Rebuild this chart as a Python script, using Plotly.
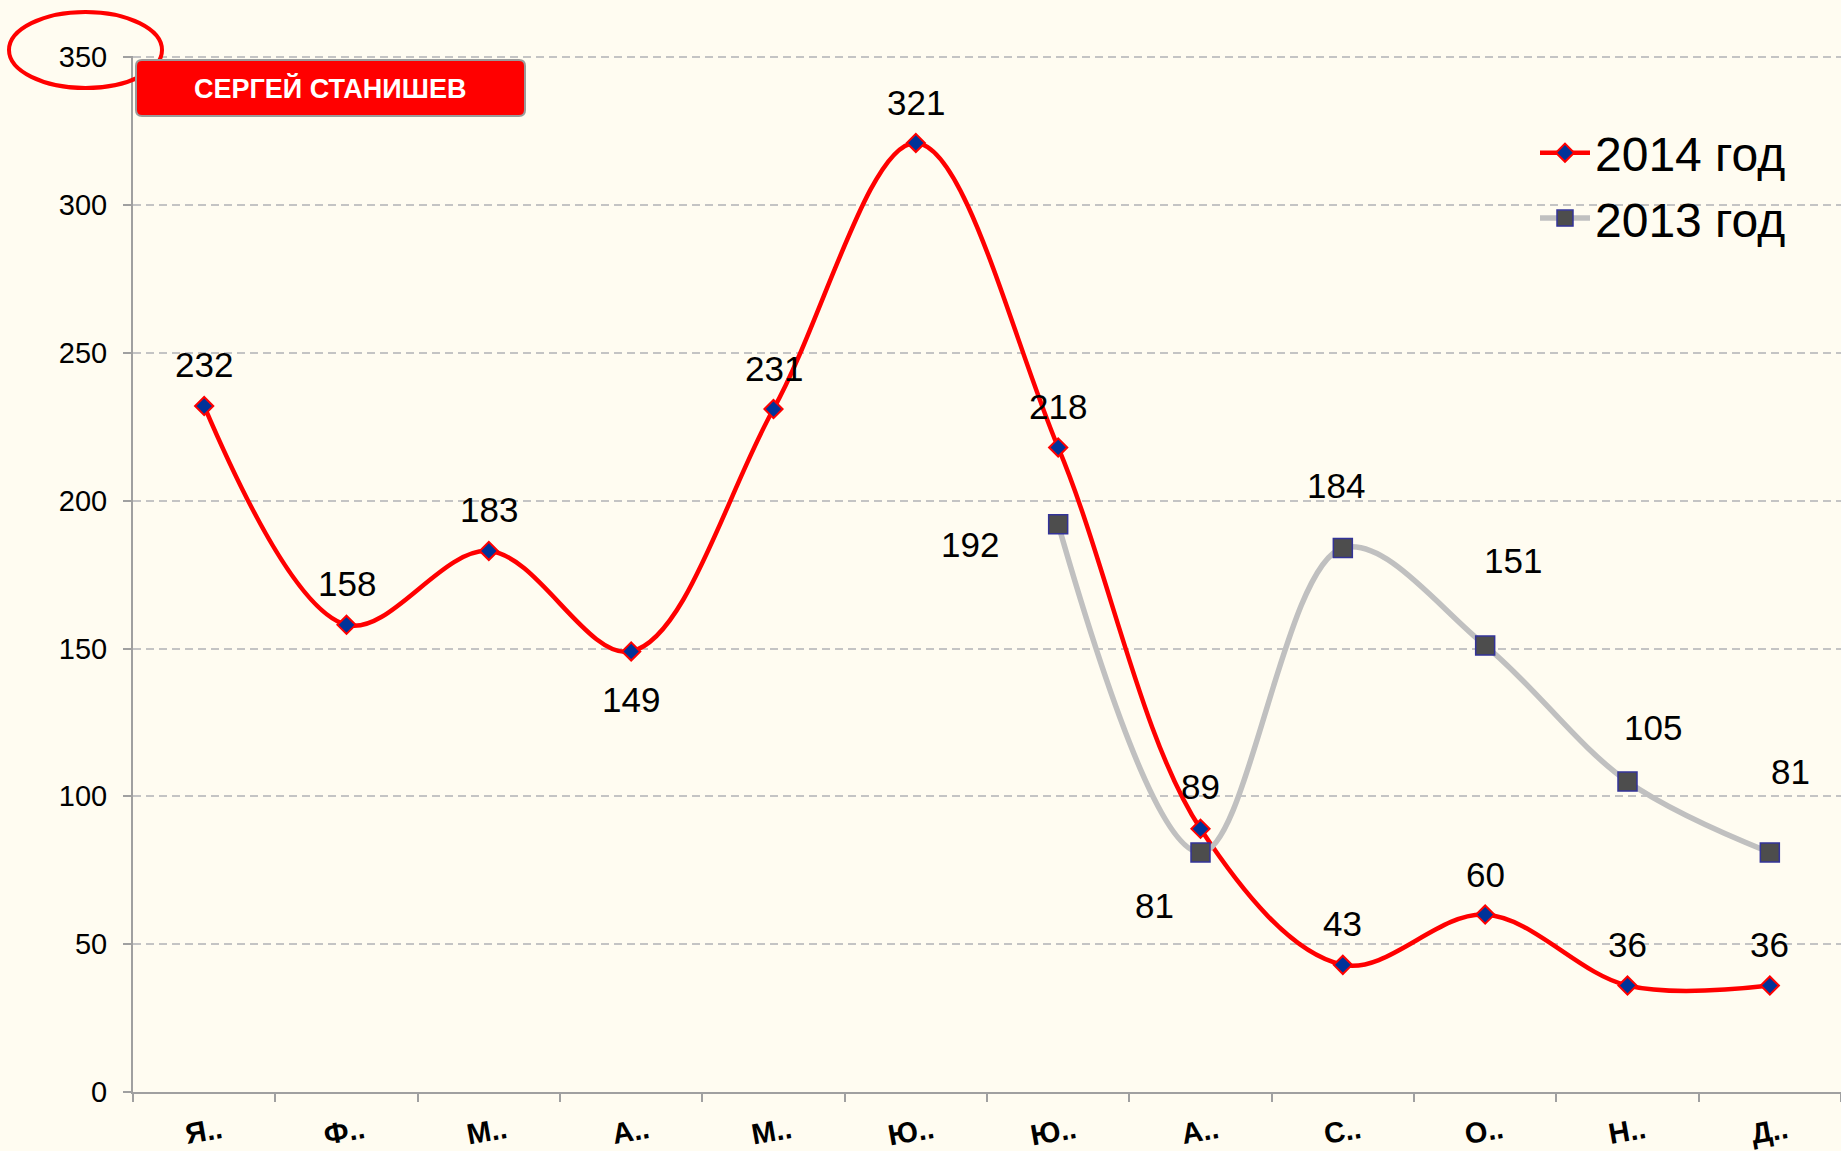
import plotly.graph_objects as go

months = ["Я..", "Ф..", "М..", "А..", "М..", "Ю..", "Ю..", "А..", "С..", "О..", "Н..", "Д.."]
y2014 = [232, 158, 183, 149, 231, 321, 218, 89, 43, 60, 36, 36]
y2013 = [None, None, None, None, None, None, 192, 81, 184, 151, 105, 81]
yticks = [0, 50, 100, 150, 200, 250, 300, 350]

# label offsets (pixels) – styling only
off2014 = [(0, 42), (0, 41), (0, 41), (0, -48), (0, 41), (0, 40), (0, 41), (0, 42), (0, 41), (0, 40), (0, 41), (0, 41)]
off2013 = [None, None, None, None, None, None, (-88, -20), (-46, -53), (-7, 62), (28, 85), (25, 54), (21, 81)]

xs = list(range(len(months)))
LABEL_NUDGE = 0.12  # rotated tick labels are end-anchored; nudge them back to the category centre
FONT = "Arial, Liberation Sans, sans-serif"
BG = "#fffcf1"

fig = go.Figure()
fig.add_trace(go.Scatter(
    x=xs, y=y2014, name="2014 год", mode="lines+markers", legendgroup="a",
    line=dict(color="#ff0000", width=4.5, shape="spline", smoothing=1.0),
    marker=dict(symbol="diamond", size=14, color="#003399", line=dict(color="#ff0000", width=2)),
))
fig.add_trace(go.Scatter(
    x=xs, y=y2013, name="2013 год", mode="lines+markers", legendgroup="b",
    line=dict(color="#c0c0c0", width=5.5, shape="spline", smoothing=1.0),
    marker=dict(symbol="square", size=19, color="#4d4d4d", line=dict(color="#333399", width=1.5)),
))

annotations = []
for i, v in enumerate(y2014):
    dx, dy = off2014[i]
    annotations.append(dict(x=i, y=v, xref="x", yref="y", text=str(v), showarrow=False,
                            xshift=dx, yshift=dy, font=dict(size=35, color="#000", family=FONT)))
for i, v in enumerate(y2013):
    if v is None:
        continue
    dx, dy = off2013[i]
    annotations.append(dict(x=i, y=v, xref="x", yref="y", text=str(v), showarrow=False,
                            xshift=dx, yshift=dy, font=dict(size=35, color="#000", family=FONT)))

# button label
annotations.append(dict(
    x=0, y=1, xref="paper", yref="paper", xshift=197, yshift=-32,
    text="<b>СЕРГЕЙ СТАНИШЕВ</b>", showarrow=False,
    font=dict(size=27, color="#ffffff", family=FONT),
    xanchor="center", yanchor="middle",
))

def rounded_rect(x0, x1, y0, y1, r):
    return (f"M {x0+r},{y0} L {x1-r},{y0} Q {x1},{y0} {x1},{y0+r} "
            f"L {x1},{y1-r} Q {x1},{y1} {x1-r},{y1} L {x0+r},{y1} "
            f"Q {x0},{y1} {x0},{y1-r} L {x0},{y0+r} Q {x0},{y0} {x0+r},{y0} Z")

shapes = [
    dict(type="circle", xref="paper", yref="paper", xsizemode="pixel", ysizemode="pixel",
         xanchor=0, yanchor=1, x0=-124, x1=29, y0=-32, y1=44,
         line=dict(color="#ff0000", width=4), fillcolor="rgba(0,0,0,0)", layer="above"),
    dict(type="path", xref="paper", yref="paper", xsizemode="pixel", ysizemode="pixel",
         xanchor=0, yanchor=1, path=rounded_rect(3, 392, -60, -4, 6),
         line=dict(color="#9a9a9a", width=2), fillcolor="#ff0000", layer="above"),
]

fig.update_layout(
    width=1841, height=1151,
    margin=dict(l=133, r=0, t=56, b=59),
    paper_bgcolor=BG, plot_bgcolor=BG,
    font=dict(family=FONT, color="#000"),
    showlegend=True,
    legend=dict(x=(1535 - 133) / 1708, y=(1092 - 115) / 1036, xanchor="left", yanchor="top",
                font=dict(size=48, family=FONT, color="#000"), bgcolor="rgba(0,0,0,0)",
                itemwidth=50, traceorder="normal", tracegroupgap=10),
    annotations=annotations,
    shapes=shapes,
    xaxis=dict(
        range=[-0.5, 11.5], tickmode="array", tickvals=[x + LABEL_NUDGE for x in xs], ticktext=months,
        ticks="", showgrid=False, zeroline=False, automargin=False,
        showline=True, linecolor="#a0a0a0", linewidth=2,
        tickfont=dict(size=29, family=FONT, color="#000", weight="bold"),
        tickangle=-10, ticklabelstandoff=9,
        minor=dict(tickmode="array", tickvals=[x + 0.5 for x in [-1] + xs], ticks="outside",
                   ticklen=8, tickcolor="#a0a0a0", tickwidth=2, showgrid=False),
    ),
    yaxis=dict(
        range=[0, 350.4], tickmode="array", tickvals=yticks, automargin=False,
        ticks="outside", ticklen=8, tickcolor="#a0a0a0", tickwidth=2,
        showline=True, linecolor="#a0a0a0", linewidth=2,
        showgrid=True, gridcolor="#c4c4c4", gridwidth=1.5, griddash="8px,5px",
        zeroline=False, ticklabelstandoff=10,
        tickfont=dict(size=29, family=FONT, color="#000"),
    ),
)

fig.write_html(
    "out.html",
    config={"displayModeBar": False},
    post_script="document.body.style.margin='0';document.body.style.overflow='hidden';"
                "document.body.style.background='" + BG + "';",
)
